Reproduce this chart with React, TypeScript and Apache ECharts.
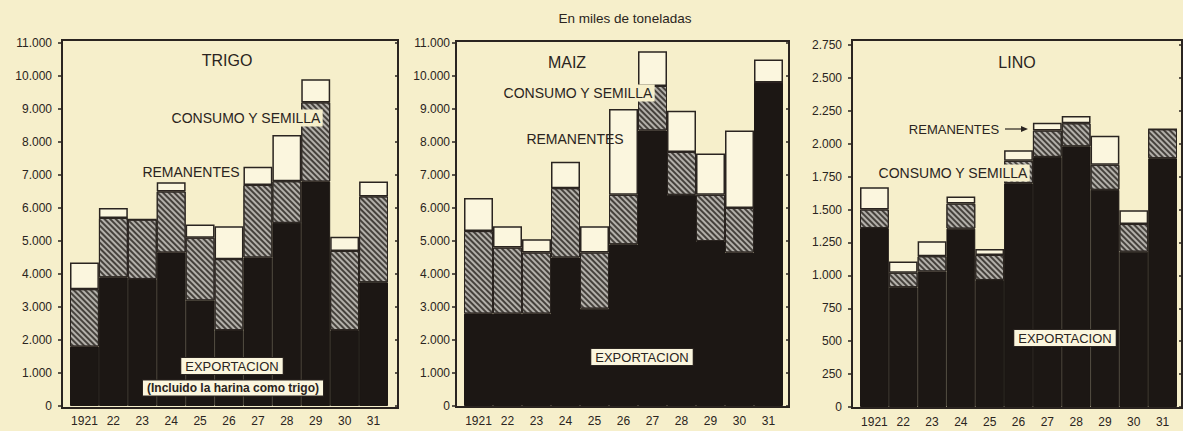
import React, { useEffect, useRef } from 'react';
import * as echarts from 'echarts';

// Categories
const years = ['1921', '22', '23', '24', '25', '26', '27', '28', '29', '30', '31'];

// TRIGO (miles de toneladas)
const trigoExportacion = [1800, 3900, 3850, 4650, 3200, 2300, 4500, 5550, 6800, 2300, 3750];
const trigoConsumo = [1740, 1800, 1800, 1850, 1900, 2150, 2200, 1260, 2400, 2400, 2600];
const trigoRemanentes = [810, 300, 0, 280, 400, 1000, 550, 1400, 700, 430, 450];

// MAIZ
const maizExportacion = [2800, 2800, 2800, 4500, 2950, 4900, 8350, 6400, 5000, 4650, 9800];
const maizConsumo = [2500, 2000, 1850, 2100, 1700, 1500, 1350, 1300, 1400, 1350, 0];
const maizRemanentes = [1000, 650, 400, 800, 800, 2600, 1050, 1250, 1250, 2350, 700];

// LINO
const linoExportacion = [1360, 910, 1030, 1355, 965, 1700, 1900, 1980, 1650, 1180, 1890];
const linoConsumo = [140, 110, 115, 190, 190, 170, 200, 175, 190, 210, 220];
const linoRemanentes = [170, 85, 115, 55, 45, 80, 60, 55, 220, 105, 0];

// Axis scales
const cerealMax = 11000;
const cerealInterval = 1000;
const linoMax = 2750;
const linoInterval = 250;

const BG = '#f6efcb';
const INK = '#2a2420';
const BLACK = '#1c1714';
const PAPER = '#fbf6de';
const GREY = '#b3b0aa';
const FONT = '"Liberation Sans", Arial, sans-serif';

const fmt = (v: number) =>
  v >= 1000 ? `${Math.floor(v / 1000)}.${String(v % 1000).padStart(3, '0')}` : String(v);

const panels = [
  { grid: { left: 70, top: 43, width: 318, height: 363 }, max: cerealMax, interval: cerealInterval, labelMargin: 10, leftOffset: 8, rightOffset: 10, data: [trigoExportacion, trigoConsumo, trigoRemanentes] },
  { grid: { left: 464, top: 43, width: 319, height: 363 }, max: cerealMax, interval: cerealInterval, labelMargin: 6, leftOffset: 8, rightOffset: 6, data: [maizExportacion, maizConsumo, maizRemanentes] },
  { grid: { left: 860, top: 45, width: 317, height: 362 }, max: linoMax, interval: linoInterval, labelMargin: 10, leftOffset: 8, rightOffset: 5, data: [linoExportacion, linoConsumo, linoRemanentes] },
];

const names = ['Exportación', 'Consumo y semilla', 'Remanentes'];

function buildOption() {
  const grid: any[] = [];
  const xAxis: any[] = [];
  const yAxis: any[] = [];
  const series: any[] = [];
  panels.forEach((p, i) => {
    grid.push({ ...p.grid });
    xAxis.push({
      type: 'category',
      gridIndex: i,
      data: years,
      boundaryGap: true,
      axisLine: { show: false },
      axisTick: { show: false },
      axisLabel: { color: INK, fontFamily: FONT, fontSize: 12, margin: 9, interval: 0 },
    });
    yAxis.push({
      type: 'value',
      gridIndex: i,
      min: 0,
      max: p.max,
      interval: p.interval,
      position: 'left',
      offset: p.leftOffset,
      splitLine: { show: false },
      axisLine: { show: false },
      axisTick: { show: true, length: 4, lineStyle: { color: INK, width: 1.5 } },
      axisLabel: { color: INK, fontFamily: FONT, fontSize: 12, margin: p.labelMargin, formatter: fmt },
    });
    yAxis.push({
      type: 'value',
      gridIndex: i,
      min: 0,
      max: p.max,
      interval: p.interval,
      position: 'right',
      offset: p.rightOffset,
      splitLine: { show: false },
      axisLine: { show: false },
      axisTick: { show: true, inside: true, length: 3, lineStyle: { color: INK, width: 1.5 } },
      axisLabel: { show: false },
    });
    const stack = 's' + i;
    const styles = [
      { color: BLACK, borderColor: BLACK, borderWidth: 1 },
      {
        color: GREY,
        borderColor: INK,
        borderWidth: 1,
        decal: {
          symbol: 'rect',
          symbolSize: 1,
          dashArrayX: [1, 0],
          dashArrayY: [1.2, 2],
          rotation: Math.PI / 4,
          color: '#45413c',
        },
      },
      { color: PAPER, borderColor: INK, borderWidth: 1.5 },
    ];
    p.data.forEach((d, k) => {
      series.push({
        type: 'bar',
        name: names[k],
        xAxisIndex: i,
        yAxisIndex: i * 2,
        stack,
        data: d,
        barCategoryGap: '0%',
        itemStyle: styles[k],
        silent: true,
      });
    });
  });

  const text = (t: string, x: number, y: number, size: number, extra: any = {}) => ({
    type: 'text',
    x,
    y,
    z: 100,
    silent: true,
    style: {
      text: t,
      fill: INK,
      font: `${extra.weight || 'normal'} ${size}px ${FONT}`,
      textAlign: 'center',
      textVerticalAlign: 'middle',
      align: 'center',
      verticalAlign: 'middle',
      ...extra.style,
    },
  });
  const boxed = { backgroundColor: PAPER, borderColor: INK, borderWidth: 1, padding: [2, 4, 1, 4] };
  const covered = { backgroundColor: BG, padding: [2, 2, 1, 2] };

  const frame = (x: number, y: number, w: number, h: number) => ({
    type: 'rect',
    z: 50,
    silent: true,
    shape: { x, y, width: w, height: h },
    style: { fill: 'none', stroke: INK, lineWidth: 2 },
  });

  const graphic = [
    frame(62, 40, 336, 368),
    frame(456, 41, 333, 366),
    frame(852, 40, 330, 368),
    text('En miles de toneladas', 625, 18, 13.5),
    // TRIGO
    text('TRIGO', 227, 60, 16),
    text('CONSUMO Y SEMILLA', 246, 118, 14, { style: covered }),
    text('REMANENTES', 191, 172, 14, { style: covered }),
    text('EXPORTACION', 232, 366, 13, { style: boxed }),
    text('(Incluido la harina como trigo)', 233, 388, 12, { weight: 'bold', style: boxed }),
    // MAIZ
    text('MAIZ', 567, 62, 16),
    text('CONSUMO Y SEMILLA', 578, 93, 14, { style: covered }),
    text('REMANENTES', 575, 139, 14),
    text('EXPORTACION', 642, 357, 13, { style: boxed }),
    // LINO
    text('LINO', 1017, 62, 16),
    text('REMANENTES', 954, 129, 13),
    {
      type: 'line',
      z: 100,
      silent: true,
      shape: { x1: 1005, y1: 129, x2: 1023, y2: 129 },
      style: { stroke: INK, lineWidth: 1.2 },
    },
    {
      type: 'polygon',
      z: 100,
      silent: true,
      shape: { points: [[1021, 126], [1028, 129], [1021, 132]] },
      style: { fill: INK },
    },
    text('CONSUMO Y SEMILLA', 953, 173, 14, { style: covered }),
    text('EXPORTACION', 1065, 338, 13, { style: boxed }),
  ];

  return {
    animation: false,
    backgroundColor: BG,
    grid,
    xAxis,
    yAxis,
    series,
    graphic,
  };
}

export default function App() {
  const ref = useRef<HTMLDivElement>(null);
  useEffect(() => {
    if (!ref.current) return;
    const chart = echarts.init(ref.current, null, { renderer: 'svg', width: 1183, height: 431 });
    chart.setOption(buildOption() as any);
    return () => chart.dispose();
  }, []);
  return (
    <div
      ref={ref}
      style={{ position: 'absolute', left: 0, top: 0, width: 1183, height: 431, background: BG }}
    />
  );
}
